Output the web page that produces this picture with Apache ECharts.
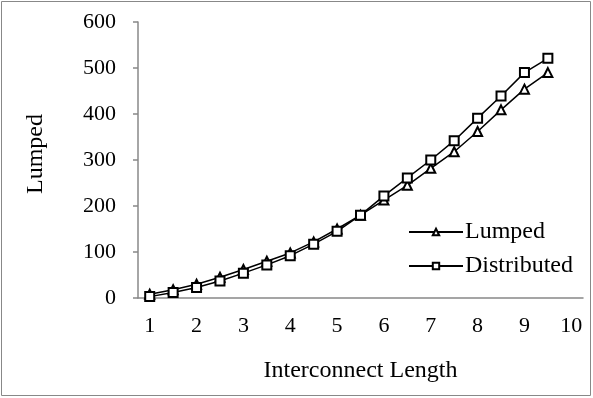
<!DOCTYPE html>
<html>
<head>
<meta charset="utf-8">
<script src="https://cdn.jsdelivr.net/npm/echarts@6/dist/echarts.min.js"></script>
<style>
  html, body { margin: 0; padding: 0; background: #fff; }
  #chart { width: 593px; height: 398px; }
</style>
</head>
<body>
<div id="chart"></div>
<script>
// interconnect length categories (1 .. 10, step 0.5)
var lengths = ['1','1.5','2','2.5','3','3.5','4','4.5','5','5.5','6','6.5','7','7.5','8','8.5','9','9.5','10'];
var lumped = [8, 18, 30, 45, 62, 80, 98, 122, 150, 180, 213, 245, 282, 318, 362, 409, 454, 490];
var distributed = [3, 12, 23, 37, 54, 72, 92, 117, 145, 180, 222, 261, 300, 342, 391, 439, 490, 521];
var yTicks = [0, 100, 200, 300, 400, 500, 600];

var font = 'Liberation Serif';
var axisGray = '#888888';

var dom = document.getElementById('chart');
var myChart = echarts.init(dom);
var option = {
    animation: false,
    backgroundColor: '#fff',
    textStyle: { fontFamily: font, color: '#000' },
    graphic: [
        {
            type: 'rect',
            shape: { x: 1.5, y: 1.5, width: 589, height: 394 },
            style: { fill: 'none', stroke: axisGray, lineWidth: 1 }
        }
    ],
    grid: { left: 138, right: 10, top: 22, bottom: 100 },
    legend: {
        orient: 'vertical',
        left: 403,
        top: 215,
        itemWidth: 54,
        itemHeight: 8,
        itemGap: 10,
        textStyle: { fontFamily: font, fontSize: 24, color: '#000', padding: [0, 0, 0, -3] },
        data: ['Lumped', 'Distributed']
    },
    xAxis: {
        type: 'category',
        boundaryGap: true,
        data: lengths,
        name: 'Interconnect Length',
        nameLocation: 'middle',
        nameGap: 61,
        nameTextStyle: { fontFamily: font, fontSize: 24, color: '#000' },
        axisLine: { lineStyle: { color: axisGray, width: 1.5 } },
        axisTick: { show: false },
        axisLabel: { interval: 1, margin: 17, fontFamily: font, fontSize: 22, color: '#000' },
        splitLine: { show: false }
    },
    yAxis: {
        type: 'value',
        min: yTicks[0],
        max: yTicks[yTicks.length - 1],
        interval: 100,
        name: 'Lumped',
        nameLocation: 'middle',
        nameGap: 90,
        nameTextStyle: { fontFamily: font, fontSize: 24, color: '#000', padding: [0, 0, 0, 12] },
        axisLine: { show: true, lineStyle: { color: axisGray, width: 1.5 } },
        axisTick: { show: true, length: 5, lineStyle: { color: axisGray, width: 1.5 } },
        axisLabel: { margin: 22, fontFamily: font, fontSize: 22, color: '#000' },
        splitLine: { show: false }
    },
    series: [
        {
            name: 'Lumped',
            type: 'line',
            data: lumped,
            symbol: 'emptyTriangle',
            symbolSize: 9,
            lineStyle: { color: '#000', width: 1.5 },
            itemStyle: { color: '#000', borderColor: '#000', borderWidth: 1.5 }
        },
        {
            name: 'Distributed',
            type: 'line',
            data: distributed,
            symbol: 'emptyRect',
            symbolSize: 9,
            lineStyle: { color: '#000', width: 1.5 },
            itemStyle: { color: '#000', borderColor: '#000', borderWidth: 1.5 }
        }
    ]
};
if (option && typeof option === "object") {
    myChart.setOption(option, true);
}
</script>
</body>
</html>
